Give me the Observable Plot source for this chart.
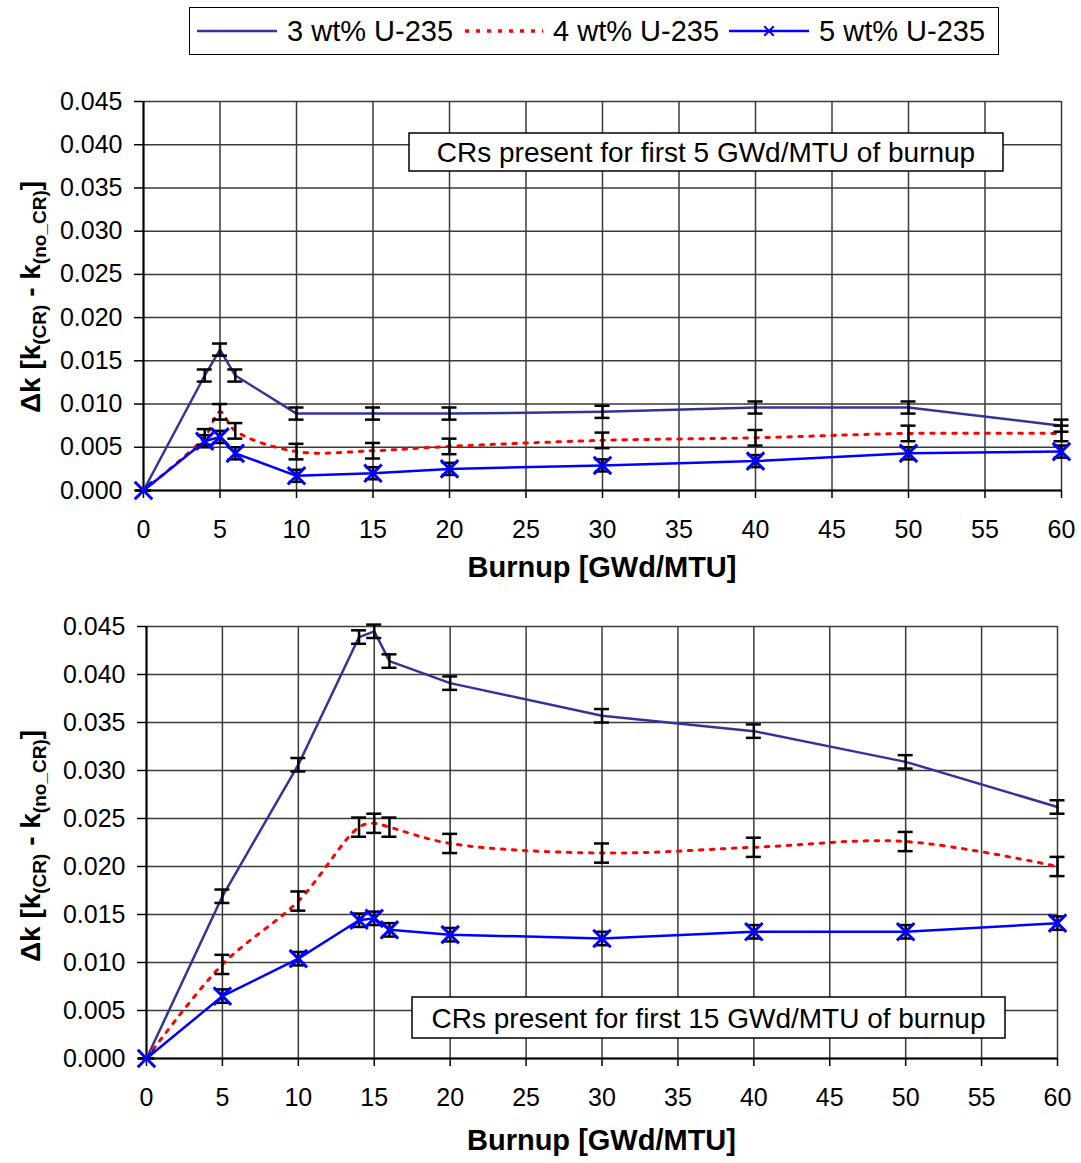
<!DOCTYPE html>
<html><head><meta charset="utf-8">
<script src="https://cdn.jsdelivr.net/npm/d3@7"></script>
<script src="https://cdn.jsdelivr.net/npm/@observablehq/plot@0.6"></script>
<style>
body{margin:0;background:#fff;font-family:"Liberation Sans",Arial,sans-serif;color:#000;}
#wrap{position:relative;width:1081px;height:1163px;overflow:hidden;background:#fff;}
#legend{position:absolute;left:189px;top:7px;width:801px;height:46px;border:1.5px solid #000;display:flex;align-items:center;gap:10px;padding-left:7px;box-sizing:content-box;font-size:29px;}
#legend .sw{width:80px;height:24px;display:block;}
#legend .lab{white-space:nowrap;line-height:1;}
#top{position:absolute;left:0;top:80px;}
#bot{position:absolute;left:0;top:600px;}
</style>
</head><body>
<div id="wrap">
  <div id="legend"></div>
  <div id="top"></div>
  <div id="bot"></div>
</div>
<script>
// ---------- data ----------
const seriesNames = ["3 wt% U-235", "4 wt% U-235", "5 wt% U-235"];
const xTicks = [0, 5, 10, 15, 20, 25, 30, 35, 40, 45, 50, 55, 60];
const yTicks = [0, 0.005, 0.010, 0.015, 0.020, 0.025, 0.030, 0.035, 0.040, 0.045];

// Top chart: CRs present for first 5 GWd/MTU
const topBurnup = [0, 4, 5, 6, 10, 15, 20, 30, 40, 50, 60];
const top3 = [0, 0.0133, 0.0163, 0.0133, 0.0089, 0.0089, 0.0089, 0.0091, 0.0096, 0.0096, 0.0075];
const top4 = [0, 0.0062, 0.0091, 0.0069, 0.0045, 0.0046, 0.0051, 0.0058, 0.0061, 0.0066, 0.0066];
const top5 = [0, 0.0057, 0.0062, 0.0043, 0.0017, 0.0020, 0.0025, 0.0029, 0.0034, 0.0043, 0.0045];
const topErr3 = [0, 0.0007, 0.0007, 0.0007, 0.0007, 0.0007, 0.0007, 0.0007, 0.0007, 0.0007, 0.0007];
const topErr4 = [0, 0.0009, 0.0009, 0.0009, 0.0009, 0.0009, 0.0009, 0.0009, 0.0009, 0.0009, 0.0009];
const topErr5 = [0, 0.0007, 0.0007, 0.0007, 0.0007, 0.0007, 0.0007, 0.0007, 0.0007, 0.0007, 0.0007];

// Bottom chart: CRs present for first 15 GWd/MTU
const botBurnup = [0, 5, 10, 14, 15, 16, 20, 30, 40, 50, 60];
const bot3 = [0, 0.0169, 0.0306, 0.0439, 0.0445, 0.0414, 0.0391, 0.0357, 0.0341, 0.0309, 0.0262];
const bot4 = [0, 0.0098, 0.0164, 0.0241, 0.0245, 0.0241, 0.0224, 0.0214, 0.0220, 0.0226, 0.0200];
const bot5 = [0, 0.0065, 0.0104, 0.0144, 0.0146, 0.0134, 0.0129, 0.0125, 0.0132, 0.0132, 0.0141];
const botErr3 = [0, 0.0007, 0.0007, 0.0007, 0.0007, 0.0007, 0.0007, 0.0007, 0.0007, 0.0007, 0.0007];
const botErr4 = [0, 0.0010, 0.0010, 0.0010, 0.0010, 0.0010, 0.0010, 0.0010, 0.0010, 0.0010, 0.0010];
const botErr5 = [0, 0.0007, 0.0007, 0.0007, 0.0007, 0.0007, 0.0007, 0.0007, 0.0007, 0.0007, 0.0007];

const annotations = ["CRs present for first 5 GWd/MTU of burnup", "CRs present for first 15 GWd/MTU of burnup"];
const xLabel = "Burnup [GWd/MTU]";

// ---------- styles ----------
const colors = ["#333399", "#ff0000", "#0000ff"];
const FONT = "'Liberation Sans', Arial, sans-serif";

function rowsOf(xs, ys, es) {
  return xs.map((x, i) => ({x, y: ys[i], e: es[i]}));
}

function makeChart(cfg) {
  const r3 = rowsOf(cfg.burnup, cfg.s3, cfg.e3);
  const r4 = rowsOf(cfg.burnup, cfg.s4, cfg.e4);
  const r5 = rowsOf(cfg.burnup, cfg.s5, cfg.e5);
  const all = [...r3, ...r4, ...r5];
  const errStyle = {stroke: "#000", strokeWidth: 2.5};
  const chart = Plot.plot({
    width: 1081,
    height: cfg.height,
    marginTop: cfg.marginTop,
    marginBottom: cfg.marginBottom,
    marginLeft: cfg.marginLeft,
    marginRight: cfg.marginRight,
    style: {fontFamily: FONT, fontSize: "25px", color: "#000", background: "transparent", overflow: "visible"},
    x: {domain: [0, 60]},
    y: {domain: [0, 0.045]},
    marks: [
      Plot.gridX(xTicks, {stroke: "#3a3a3a", strokeOpacity: 1, strokeWidth: 1.5}),
      Plot.gridY(yTicks, {stroke: "#3a3a3a", strokeOpacity: 1, strokeWidth: 1.5}),
      Plot.axisX({ticks: xTicks, tickSize: 8, tickPadding: 22, label: null, fontSize: 25, strokeWidth: 1.5}),
      Plot.axisY({ticks: yTicks, tickSize: 9, tickPadding: 12, tickFormat: d => d.toFixed(3), label: null, fontSize: 25, strokeWidth: 1.5}),
      Plot.ruleY([0], {stroke: "#000", strokeWidth: 2}),
      Plot.ruleX([0], {stroke: "#000", strokeWidth: 2}),
      Plot.line(r3, {x: "x", y: "y", stroke: colors[0], strokeWidth: 2.5}),
      Plot.line(r4, {x: "x", y: "y", stroke: colors[1], strokeWidth: 3, strokeDasharray: "3.5,7.5", curve: "catmull-rom"}),
      Plot.line(r5, {x: "x", y: "y", stroke: colors[2], strokeWidth: 2.5}),
      Plot.ruleX(all, {x: "x", y1: d => d.y - d.e, y2: d => d.y + d.e, ...errStyle}),
      Plot.ruleY(all, {y: d => d.y - d.e, x1: "x", x2: "x", insetLeft: -7.5, insetRight: -7.5, ...errStyle}),
      Plot.ruleY(all, {y: d => d.y + d.e, x1: "x", x2: "x", insetLeft: -7.5, insetRight: -7.5, ...errStyle}),
      Plot.dot(r5, {x: "x", y: "y", symbol: "times", stroke: colors[2], strokeWidth: 3, r: 8})
    ]
  });
  return chart;
}

function addTitles(svgNode, cfg) {
  const svg = d3.select(svgNode);
  const plotLeft = cfg.marginLeft, plotRight = 1081 - cfg.marginRight;
  const plotBottom = cfg.height - cfg.marginBottom;
  // x axis title
  svg.append("text")
    .attr("x", (plotLeft + plotRight) / 2)
    .attr("y", plotBottom + cfg.xLabelOffset)
    .attr("text-anchor", "middle")
    .attr("font-family", FONT).attr("font-weight", "bold").attr("font-size", 29)
    .attr("fill", "#000")
    .text(xLabel);
  // y axis title with subscripts
  const yt = svg.append("text")
    .attr("transform", `translate(40,${cfg.yLabelCenter}) rotate(-90)`)
    .attr("text-anchor", "middle")
    .attr("font-family", FONT).attr("font-weight", "bold").attr("font-size", 28)
    .attr("fill", "#000");
  yt.append("tspan").text("\u0394k [k");
  yt.append("tspan").attr("font-size", 19).attr("dy", 6).text("(CR)");
  yt.append("tspan").attr("dy", -6).text(" - k");
  yt.append("tspan").attr("font-size", 19).attr("dy", 6).text("(no_CR)");
  yt.append("tspan").attr("dy", -6).text("]");
  // annotation box
  const g = svg.append("g");
  g.append("rect")
    .attr("x", cfg.box[0]).attr("y", cfg.box[1]).attr("width", cfg.box[2]).attr("height", cfg.box[3])
    .attr("fill", "#fff").attr("stroke", "#000").attr("stroke-width", 1.5);
  g.append("text")
    .attr("x", cfg.box[0] + cfg.box[2] / 2)
    .attr("y", cfg.box[1] + cfg.box[3] / 2 + 10)
    .attr("text-anchor", "middle")
    .attr("font-family", FONT).attr("font-size", 28).attr("fill", "#000")
    .text(cfg.note);
}

const topCfg = {
  burnup: topBurnup, s3: top3, s4: top4, s5: top5, e3: topErr3, e4: topErr4, e5: topErr5,
  height: 510, marginTop: 21, marginBottom: 100, marginLeft: 143, marginRight: 20,
  xLabelOffset: 87, yLabelCenter: 217, box: [409, 53, 594, 38], note: annotations[0]
};
const botCfg = {
  burnup: botBurnup, s3: bot3, s4: bot4, s5: bot5, e3: botErr3, e4: botErr4, e5: botErr5,
  height: 563, marginTop: 26, marginBottom: 105, marginLeft: 146, marginRight: 24,
  xLabelOffset: 92, yLabelCenter: 246, box: [412, 397, 593, 41], note: annotations[1]
};

const topChart = makeChart(topCfg);
document.getElementById("top").appendChild(topChart);
addTitles(topChart, topCfg);
const botChart = makeChart(botCfg);
document.getElementById("bot").appendChild(botChart);
addTitles(botChart, botCfg);

// ---------- legend ----------
const legend = d3.select("#legend");
seriesNames.forEach((name, i) => {
  const sw = legend.append("svg").attr("class", "sw").attr("width", 80).attr("height", 24);
  const ln = sw.append("line").attr("x1", 0).attr("x2", 80).attr("y1", 12).attr("y2", 12)
    .attr("stroke", colors[i]).attr("stroke-width", i === 1 ? 3.5 : 2.5);
  if (i === 1) ln.attr("stroke-dasharray", "4,7").attr("x1", 2);
  if (i === 2) {
    sw.append("path").attr("d", d3.symbol(d3.symbolTimes, 60)()).attr("transform", "translate(40,12)")
      .attr("stroke", colors[2]).attr("stroke-width", 2).attr("fill", "none");
  }
  legend.append("span").attr("class", "lab").text(name);
});
</script>
</body></html>
